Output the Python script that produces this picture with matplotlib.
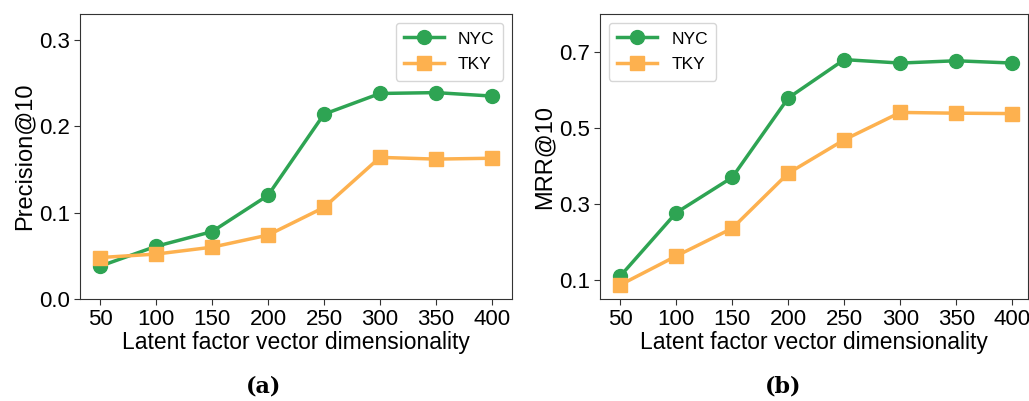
import matplotlib
matplotlib.use("Agg")
import matplotlib.pyplot as plt

# Data
dims = [50, 100, 150, 200, 250, 300, 350, 400]

prec_nyc = [0.038, 0.061, 0.078, 0.120, 0.214, 0.238, 0.239, 0.235]
prec_tky = [0.048, 0.052, 0.060, 0.074, 0.106, 0.164, 0.162, 0.163]

mrr_nyc = [0.110, 0.277, 0.370, 0.579, 0.680, 0.671, 0.677, 0.671]
mrr_tky = [0.087, 0.163, 0.236, 0.381, 0.469, 0.541, 0.539, 0.538]

prec_ticks = [0.0, 0.1, 0.2, 0.3]
mrr_ticks = [0.1, 0.3, 0.5, 0.7]

GREEN = "#2ea453"
ORANGE = "#fdb14f"

plt.rcParams["font.family"] = ["Liberation Sans", "DejaVu Sans"]

fig = plt.figure(figsize=(10.29, 4.01), dpi=100)
ax1 = fig.add_axes([0.0777, 0.2544, 0.4199, 0.7106])
ax2 = fig.add_axes([0.5831, 0.2544, 0.4159, 0.7106])


def draw(ax, nyc, tky, ylabel, yticks, ylim, xlim, loc):
    ax.plot(dims, nyc, color=GREEN, marker="o", markersize=10, linewidth=2.5, label="NYC")
    ax.plot(dims, tky, color=ORANGE, marker="s", markersize=10, linewidth=2.5, label="TKY")
    ax.set_xticks(dims)
    ax.set_yticks(yticks)
    ax.set_yticklabels([f"{t:.1f}" for t in yticks])
    ax.set_ylim(*ylim)
    ax.set_xlim(*xlim)
    ax.tick_params(labelsize=16, length=4, color="#333333", pad=3)
    ax.set_xlabel("Latent factor vector dimensionality", fontsize=16.5, labelpad=1)
    ax.set_ylabel(ylabel, fontsize=17, labelpad=3)
    for s in ax.spines.values():
        s.set_color("#333333")
    ax.legend(loc=loc, fontsize=12.5, handlelength=2.3, borderpad=0.5,
              labelspacing=0.6, handletextpad=0.8, fancybox=True)


draw(ax1, prec_nyc, prec_tky, "Precision@10", prec_ticks, (0, 0.33), (32, 418), "upper right")
draw(ax2, mrr_nyc, mrr_tky, "MRR@10", mrr_ticks, (0.05, 0.8), (32, 414), "upper left")

fig.text(0.256, 0.035, "(a)", ha="center", va="center", fontsize=16,
         family="DejaVu Serif", fontweight="bold")
fig.text(0.761, 0.035, "(b)", ha="center", va="center", fontsize=16,
         family="DejaVu Serif", fontweight="bold")

fig.savefig("out.png", dpi=100)
